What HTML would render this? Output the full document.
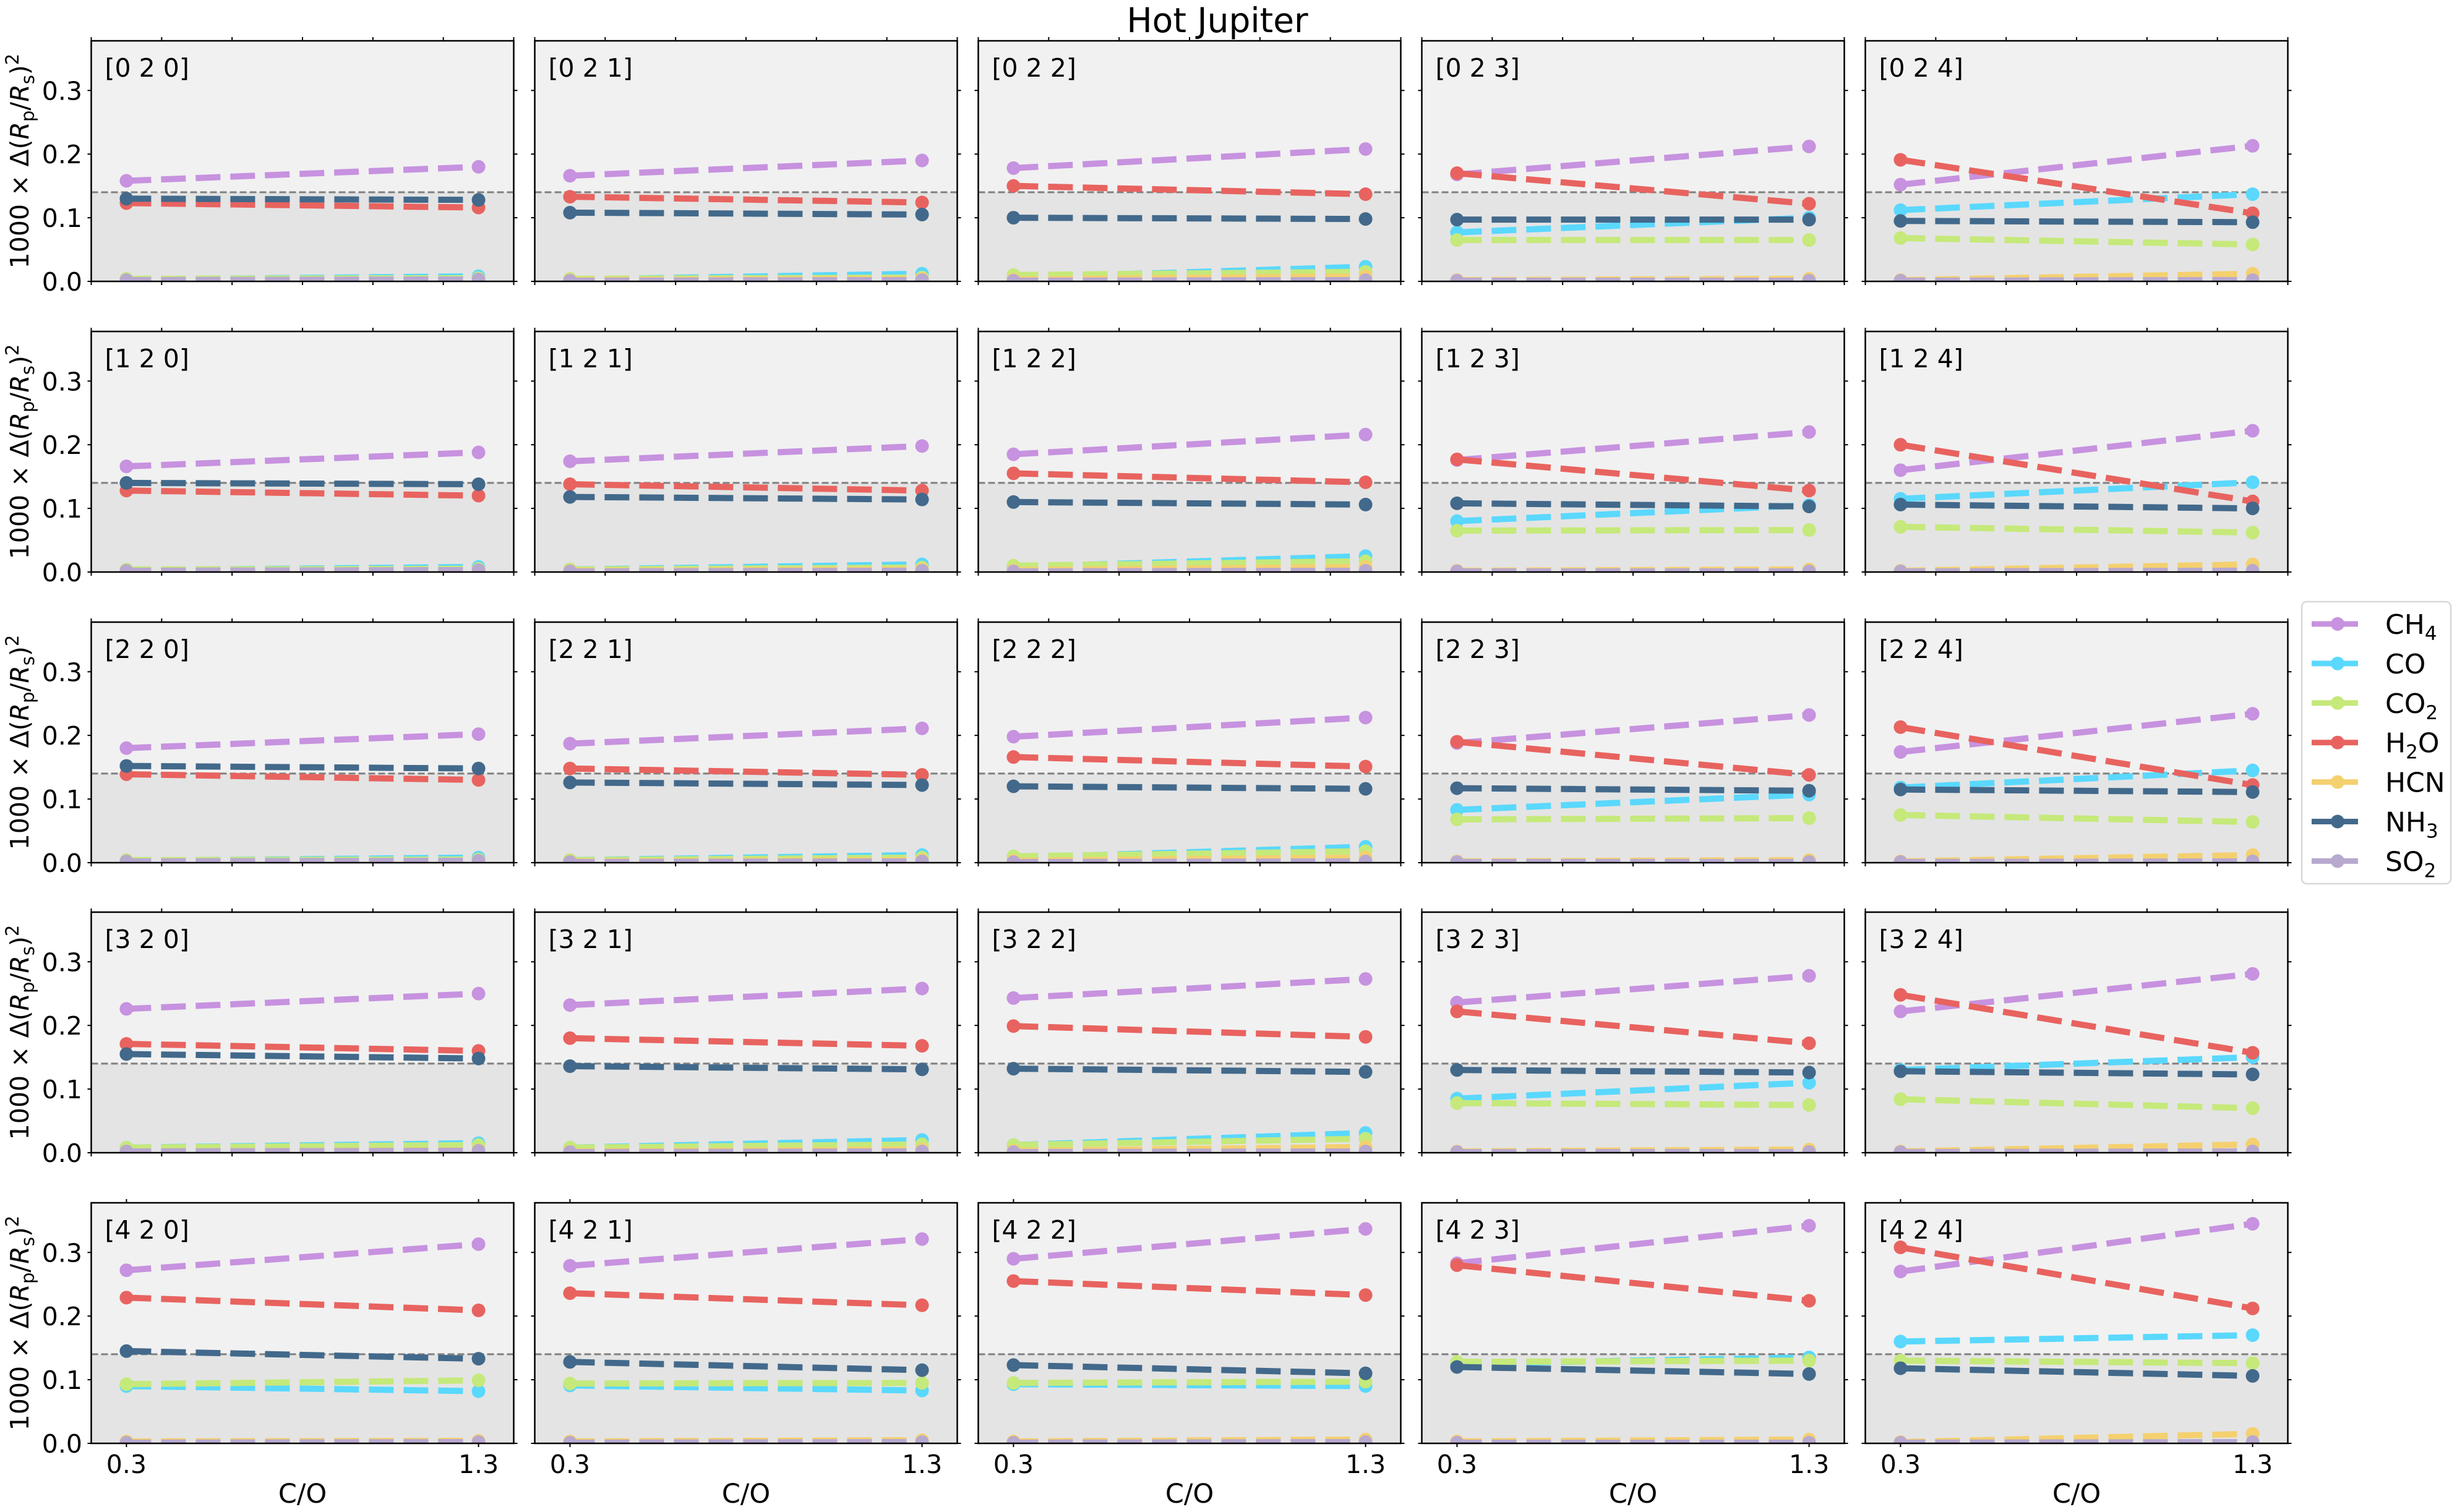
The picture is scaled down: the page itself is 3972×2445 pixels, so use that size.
<!DOCTYPE html>
<html><head><meta charset="utf-8">
<style>
html,body{margin:0;padding:0;background:#fff;}
svg{display:block;font-family:"DejaVu Sans","Liberation Sans",sans-serif;}
</style></head>
<body>
<svg id="chart" width="3972" height="2445" viewBox="0 0 3972 2445" xmlns="http://www.w3.org/2000/svg">
<text x="1968" y="52" font-size="55" text-anchor="middle">Hot Jupiter</text>
</svg>
<script>
// Data: each species has 25 panels (row-major, [r 2 c]) of [value at C/O=0.3, value at C/O=1.3]
const coValues = [0.3, 1.3];
const yTicks = [0.0, 0.1, 0.2, 0.3];
const yTickLabels = ["0.0", "0.1", "0.2", "0.3"];
const xTicksLabelled = ["0.3", "1.3"];
const threshold = 0.14;
const speciesNames = ["CH4", "CO", "CO2", "H2O", "HCN", "NH3", "SO2"];
const CH4 = [[0.158,0.180],[0.166,0.190],[0.178,0.208],[0.168,0.212],[0.152,0.213],
             [0.166,0.188],[0.174,0.198],[0.185,0.216],[0.176,0.220],[0.160,0.222],
             [0.180,0.202],[0.187,0.211],[0.198,0.228],[0.188,0.232],[0.174,0.234],
             [0.226,0.250],[0.232,0.258],[0.243,0.273],[0.236,0.278],[0.222,0.281],
             [0.272,0.313],[0.279,0.321],[0.290,0.337],[0.283,0.342],[0.270,0.345]];
const CO  = [[0.003,0.008],[0.003,0.012],[0.006,0.023],[0.077,0.100],[0.112,0.137],
             [0.003,0.008],[0.004,0.012],[0.008,0.025],[0.080,0.105],[0.115,0.141],
             [0.003,0.008],[0.004,0.012],[0.008,0.025],[0.083,0.107],[0.118,0.145],
             [0.008,0.015],[0.008,0.020],[0.012,0.031],[0.085,0.110],[0.130,0.150],
             [0.090,0.082],[0.091,0.083],[0.093,0.090],[0.125,0.135],[0.160,0.170]];
const CO2 = [[0.004,0.005],[0.004,0.006],[0.010,0.015],[0.065,0.065],[0.068,0.058],
             [0.004,0.005],[0.004,0.007],[0.010,0.017],[0.065,0.066],[0.071,0.062],
             [0.004,0.005],[0.004,0.008],[0.010,0.018],[0.068,0.070],[0.075,0.064],
             [0.008,0.012],[0.008,0.013],[0.012,0.022],[0.078,0.075],[0.084,0.070],
             [0.093,0.099],[0.094,0.095],[0.095,0.097],[0.128,0.130],[0.130,0.126]];
const H2O = [[0.123,0.116],[0.133,0.124],[0.150,0.137],[0.170,0.122],[0.191,0.107],
             [0.128,0.120],[0.138,0.128],[0.155,0.141],[0.177,0.128],[0.200,0.111],
             [0.139,0.130],[0.148,0.138],[0.166,0.151],[0.190,0.138],[0.213,0.122],
             [0.171,0.160],[0.180,0.168],[0.199,0.182],[0.222,0.172],[0.248,0.157],
             [0.229,0.209],[0.236,0.217],[0.255,0.233],[0.280,0.224],[0.308,0.212]];
const HCN = [[0.002,0.003],[0.002,0.004],[0.003,0.008],[0.002,0.004],[0.002,0.012],
             [0.002,0.003],[0.002,0.004],[0.003,0.008],[0.002,0.004],[0.002,0.012],
             [0.002,0.003],[0.002,0.004],[0.003,0.008],[0.002,0.004],[0.002,0.012],
             [0.002,0.004],[0.002,0.005],[0.003,0.009],[0.002,0.005],[0.002,0.013],
             [0.003,0.004],[0.003,0.005],[0.003,0.006],[0.003,0.006],[0.002,0.015]];
const NH3 = [[0.130,0.128],[0.108,0.105],[0.100,0.098],[0.097,0.097],[0.095,0.093],
             [0.140,0.138],[0.118,0.114],[0.110,0.106],[0.108,0.103],[0.106,0.100],
             [0.152,0.148],[0.126,0.122],[0.120,0.116],[0.117,0.113],[0.115,0.111],
             [0.155,0.148],[0.136,0.131],[0.132,0.127],[0.130,0.126],[0.128,0.123],
             [0.145,0.133],[0.128,0.115],[0.123,0.110],[0.120,0.109],[0.118,0.106]];
const SO2 = [[0.002,0.003],[0.001,0.002],[0.001,0.002],[0.001,0.001],[0.001,0.002],
             [0.002,0.003],[0.001,0.002],[0.001,0.002],[0.001,0.001],[0.001,0.002],
             [0.002,0.003],[0.001,0.002],[0.001,0.002],[0.001,0.001],[0.001,0.002],
             [0.002,0.003],[0.001,0.002],[0.001,0.002],[0.001,0.001],[0.001,0.002],
             [0.001,0.002],[0.001,0.002],[0.001,0.002],[0.001,0.001],[0.001,0.002]];

const seriesData = [CH4, CO, CO2, H2O, HCN, NH3, SO2];
const colors = ["#c792df","#5ad8fd","#c5e97a","#e8635f","#f4d06f","#42698b","#b8a9cf"];
const NS = "http://www.w3.org/2000/svg";
const svg = document.getElementById("chart");

const panelW = 683, panelH = 389;
const colX = [147.5, 864.5, 1581.5, 2298.5, 3015.5];
const rowY = [66, 536, 1006, 1475, 1945];
const xMin = 0.2, xMax = 1.4, yMin = 0, yMax = 0.378;

function mk(tag, attrs, parent){
  const e = document.createElementNS(NS, tag);
  for (const k in attrs) e.setAttribute(k, attrs[k]);
  (parent || svg).appendChild(e);
  return e;
}

for (let r = 0; r < 5; r++){
  for (let c = 0; c < 5; c++){
    const idx = r*5 + c;
    const x0 = colX[c], y0 = rowY[r];
    const sx = v => x0 + (v - xMin)/(xMax - xMin)*panelW;
    const sy = v => y0 + panelH - (v - yMin)/(yMax - yMin)*panelH;
    const g = mk("g", {});
    
    
    // backgrounds
    const top = mk("rect", {x:x0, y:y0, width:panelW, height:sy(threshold)-y0, fill:"#f1f1f1"}, g);
    
    
    const bot = mk("rect", {x:x0, y:sy(threshold), width:panelW, height:y0+panelH-sy(threshold), fill:"#e4e4e4"}, g);
    
    
    const hl = mk("line", {x1:x0, x2:x0+panelW, y1:sy(threshold), y2:sy(threshold), stroke:"#808080", "stroke-width":3, "stroke-dasharray":"11 5"}, g);
    
    
    // series
    const clipId = "clip" + idx;
    const cp = mk("clipPath", {id:clipId}, g);
    mk("rect", {x:x0, y:y0-20, width:panelW, height:panelH+20}, cp);
    const sg = mk("g", {"clip-path":"url(#"+clipId+")"}, g);
    for (let s = 0; s < seriesData.length; s++){
      const v = seriesData[s][idx];
      const ln = mk("line", {x1:sx(coValues[0]), y1:sy(v[0]), x2:sx(coValues[1]), y2:sy(v[1]),
        stroke:colors[s], "stroke-width":10, "stroke-dasharray":"40 16"}, sg);
      
      
      for (let k = 0; k < 2; k++){
        const m = mk("circle", {cx:sx(coValues[k]), cy:sy(v[k]), r:11, fill:colors[s]}, sg);
        
        
      }
    }
    // frame
    const fr = mk("rect", {x:x0, y:y0, width:panelW, height:panelH, fill:"none", stroke:"#000", "stroke-width":2.5}, g);
    
    
    // x ticks
    const xt = (r === 4) ? coValues : [0.2,0.4,0.6,0.8,1.0,1.2,1.4];
    xt.forEach(t => {
      mk("line", {x1:sx(t), x2:sx(t), y1:y0, y2:y0-6, stroke:"#000", "stroke-width":2}, g);
      mk("line", {x1:sx(t), x2:sx(t), y1:y0+panelH, y2:y0+panelH+6, stroke:"#000", "stroke-width":2}, g);
    });
    yTicks.forEach((t, i) => {
      mk("line", {x1:x0, x2:x0-6, y1:sy(t), y2:sy(t), stroke:"#000", "stroke-width":2}, g);
      mk("line", {x1:x0+panelW, x2:x0+panelW+6, y1:sy(t), y2:sy(t), stroke:"#000", "stroke-width":2}, g);
      if (c === 0){
        const tl = mk("text", {x:133, y:sy(t)+15, "font-size":41, "text-anchor":"end"}, g);
        tl.textContent = yTickLabels[i];
        
        
      }
    });
    if (r === 4){
      coValues.forEach((t, i) => {
        const tl = mk("text", {x:sx(t), y:y0+panelH+48, "font-size":41, "text-anchor":"middle"}, g);
        tl.textContent = xTicksLabelled[i];
        
        
      });
      const xl = mk("text", {x:x0+panelW/2, y:2430, "font-size":43, "text-anchor":"middle"}, g);
      xl.textContent = "C/O";
      
      
    }
    const lab = mk("text", {x:x0+22, y:y0+58, "font-size":41}, g);
    lab.textContent = "[" + r + " 2 " + c + "]";
    
    
    if (c === 0){
      const cy = y0 + panelH/2;
      const yl = mk("text", {x:0, y:0, "font-size":41, "text-anchor":"middle",
        transform:"translate(46," + cy + ") rotate(-90)"}, g);
      yl.innerHTML = '1000 × Δ(<tspan font-style="italic">R</tspan><tspan font-size="29" dy="9">p</tspan><tspan dy="-9">/</tspan><tspan font-style="italic">R</tspan><tspan font-size="29" dy="9">s</tspan><tspan dy="-9">)</tspan><tspan font-size="29" dy="-16">2</tspan>';
      
      
    }
  }
}

// legend
const lg = mk("g", {});


mk("rect", {x:3721, y:973, width:241, height:456, rx:8, fill:"#fff", stroke:"#d8d8d8", "stroke-width":2.5}, lg);
const legendLabels = ['CH<tspan font-size="31" dy="10">4</tspan>','CO','CO<tspan font-size="31" dy="10">2</tspan>',
  'H<tspan font-size="31" dy="10">2</tspan><tspan dy="-10">O</tspan>','HCN','NH<tspan font-size="31" dy="10">3</tspan>','SO<tspan font-size="31" dy="10">2</tspan>'];
for (let s = 0; s < 7; s++){
  const y = 1009 + s*63.9;
  const e = mk("g", {}, lg);
  
  
  mk("line", {x1:3737, x2:3812, y1:y, y2:y, stroke:colors[s], "stroke-width":9}, e);
  mk("circle", {cx:3779, cy:y, r:11, fill:colors[s]}, e);
  const t = mk("text", {x:3856, y:y+16, "font-size":44}, e);
  t.innerHTML = legendLabels[s];
}
</script>
</body></html>
